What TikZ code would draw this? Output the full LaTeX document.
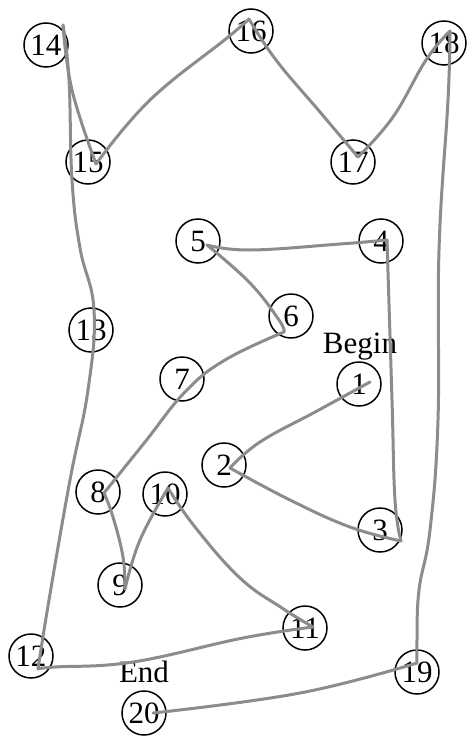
\documentclass[tikz,border=0pt]{standalone}
\usepackage{fontspec}
\setmainfont{Liberation Serif}
\usetikzlibrary{calc}
\definecolor{pen}{gray}{0.55}
\tikzset{
  num/.style={draw=black, line width=1.5pt, circle, minimum size=44pt, inner sep=0pt,
              font=\fontsize{31}{31}\selectfont},
  tag/.style={anchor=base, inner sep=0pt, font=\fontsize{31}{31}\selectfont},
  stroke/.style={draw=pen, line width=3pt, line cap=round, line join=round},
}
\begin{document}
\begin{tikzpicture}[x=1pt, y=-1pt]
\useasboundingbox (0,0) rectangle (466,736);

% numbered stations
\node[num] (n1)  at (359,384) {1};
\node[num] (n2)  at (224,465) {2};
\node[num] (n3)  at (380,530) {3};
\node[num] (n4)  at (381,241) {4};
\node[num] (n5)  at (198,241) {5};
\node[num] (n6)  at (291,316) {6};
\node[num] (n7)  at (182,379) {7};
\node[num] (n8)  at (98,492)  {8};
\node[num] (n9)  at (120,585) {9};
\node[num] (n10) at (165,494) {10};
\node[num] (n11) at (305,628) {11};
\node[num] (n12) at (31,656)  {12};
\node[num] (n13) at (91,330)  {13};
\node[num] (n14) at (46,45)   {14};
\node[num] (n15) at (88,162)  {15};
\node[num] (n16) at (251,31)  {16};
\node[num] (n17) at (353,162) {17};
\node[num] (n18) at (444,43)  {18};
\node[num] (n19) at (417,672) {19};
\node[num] (n20) at (144,713) {20};

\node[tag] (begin) at (360,353) {Begin};
\node[tag] (end)   at (144,682) {End};

% turning points of the pen inside each station
\coordinate (p1)  at ($(n1)+(11,-2)$);
\coordinate (p2)  at ($(n2)+(6,3)$);
\coordinate (p3)  at ($(n3)+(21,11)$);
\coordinate (p4)  at ($(n4)+(6,-1)$);
\coordinate (p5)  at ($(n5)+(9,4)$);
\coordinate (p6)  at ($(n6)+(-7,16)$);
\coordinate (p8)  at ($(n8)+(6,1)$);
\coordinate (p9)  at ($(n9)+(5,4)$);
\coordinate (p10) at ($(n10)+(3,-6)$);
\coordinate (p11) at ($(n11)+(8,-1)$);
\coordinate (p12) at ($(n12)+(7,13)$);
\coordinate (p14) at ($(n14)+(17,-20)$);
\coordinate (p15) at ($(n15)+(8,2)$);
\coordinate (p16) at ($(n16)+(-2,-12)$);
\coordinate (p17) at ($(n17)+(5,-5)$);
\coordinate (p18) at ($(n18)+(6,-12)$);
\coordinate (p19) at ($(n19)+(0,-9)$);
\coordinate (p20) at ($(n20)+(9,0)$);

% the hand-drawn route
\begin{scope}[stroke]
\draw plot[smooth, tension=0.7] coordinates {(p1) (317,411) (260,442) (p2)};
\draw plot[smooth, tension=0.7] coordinates {(p2) (290,500) (350,527) (p3)};
\draw plot[smooth, tension=0.7] coordinates {(p3) (395,500) (392,400) (p4)};
\draw plot[smooth, tension=0.7] coordinates {(p4) (340,244) (250,250) (p5)};
\draw plot[smooth, tension=0.7] coordinates {(p5) (250,283) (279,320) (p6)};
\draw plot[smooth, tension=0.7] coordinates {(p6) (225,360) (185,392) (145,442) (p8)};
\draw plot[smooth, tension=0.7] coordinates {(p8) (113,517) (123,557) (p9)};
\draw plot[smooth, tension=0.7] coordinates {(p9) (140,540) (p10)};
\draw plot[smooth, tension=0.7] coordinates {(p10) (195,527) (240,578) (282,608) (p11)};
\draw plot[smooth, tension=0.7] coordinates {(p11) (243,638) (133,662) (55,667) (p12)};
\draw plot[smooth, tension=0.7] coordinates {(p12) (49,600) (70,480) (88,390) (94,310) (80,248) (72,180) (69,80) (p14)};
\draw plot[smooth, tension=0.7] coordinates {(p14) (72,90) (p15)};
\draw plot[smooth, tension=0.7] coordinates {(p15) (150,100) (227,38) (p16)};
\draw plot[smooth, tension=0.7] coordinates {(p16) (276,60) (320,112) (p17)};
\draw plot[smooth, tension=0.7] coordinates {(p17) (393,117) (426,60) (p18)};
\draw plot[smooth, tension=0.7] coordinates {(p18) (448,100) (439,250) (438,420) (430,530) (419,590) (417,640) (p19)};
\draw plot[smooth, tension=0.7] coordinates {(p19) (300,693) (p20)};
\end{scope}
\end{tikzpicture}
\end{document}
